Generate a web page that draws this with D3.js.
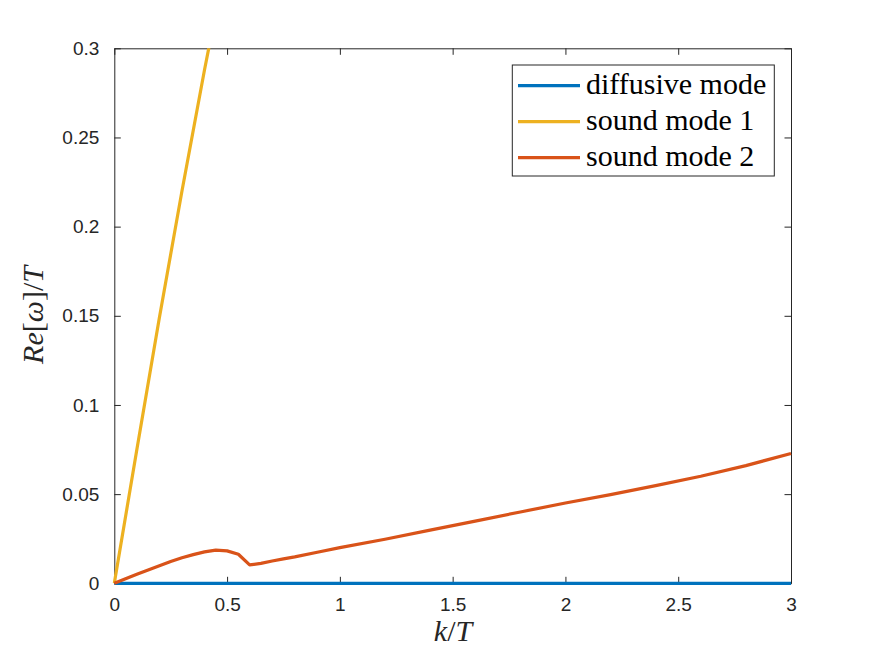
<!DOCTYPE html>
<html><head><meta charset="utf-8">
<script src="https://cdn.jsdelivr.net/npm/d3@7"></script>
<style>body{margin:0;background:#fff}svg{display:block}</style>
</head><body>
<svg id="c" width="875" height="656"></svg>
<script>
const xTicks = [0, 0.5, 1, 1.5, 2, 2.5, 3];
const xTickLabels = ["0", "0.5", "1", "1.5", "2", "2.5", "3"];
const yTicks = [0, 0.05, 0.1, 0.15, 0.2, 0.25, 0.3];
const yTickLabels = ["0", "0.05", "0.1", "0.15", "0.2", "0.25", "0.3"];

const kDiff = [0, 0.5, 1, 1.5, 2, 2.5, 3];
const vDiff = [0, 0, 0, 0, 0, 0, 0];

const kSound1 = [0, 0.1, 0.2, 0.3, 0.4, 0.45];
const vSound1 = [0, 0.075, 0.149, 0.22, 0.288, 0.32];

const kSound2 = [0, 0.05, 0.1, 0.15, 0.2, 0.25, 0.3, 0.35, 0.4, 0.45, 0.5, 0.55, 0.6, 0.65, 0.7, 0.75, 0.8, 0.9, 1.0, 1.2, 1.4, 1.6, 1.8, 2.0, 2.2, 2.4, 2.6, 2.8, 3.0];
const vSound2 = [0, 0.0026, 0.0051, 0.0075, 0.0098, 0.0122, 0.0143, 0.0161, 0.0176, 0.0186, 0.0182, 0.0163, 0.0103, 0.0112, 0.0125, 0.0137, 0.0148, 0.0174, 0.0200, 0.0247, 0.0298, 0.0349, 0.0400, 0.0450, 0.0497, 0.0548, 0.0600, 0.0660, 0.0728];

const seriesNames = ["diffusive mode", "sound mode 1", "sound mode 2"];
const seriesColors = ["#0072BD", "#EDB120", "#D95319"];

const L = 114.3, R = 791, T = 48.3, B = 583.3;
const svg = d3.select("#c");
const x = d3.scaleLinear().domain([0, 3]).range([L, R]);
const y = d3.scaleLinear().domain([0, 0.3]).range([B, T]);
const axCol = "#262626";
const tickLen = 6.5;

svg.append("defs").append("clipPath").attr("id", "clip")
  .append("rect").attr("x", L - 2).attr("y", T).attr("width", R - L + 4).attr("height", B - T + 2.5);

// axes with inward ticks on all sides
const fontTick = "Liberation Sans, Arial, sans-serif";
const gB = svg.append("g").attr("transform", `translate(0,${B})`)
  .call(d3.axisBottom(x).tickValues(xTicks).tickFormat((d, i) => xTickLabels[i]).tickSizeInner(-tickLen).tickSizeOuter(0).tickPadding(14));
const gT = svg.append("g").attr("transform", `translate(0,${T})`)
  .call(d3.axisTop(x).tickValues(xTicks).tickFormat("").tickSizeInner(-tickLen).tickSizeOuter(0));
const gL = svg.append("g").attr("transform", `translate(${L},0)`)
  .call(d3.axisLeft(y).tickValues(yTicks).tickFormat((d, i) => yTickLabels[i]).tickSizeInner(-tickLen).tickSizeOuter(0).tickPadding(15));
const gR = svg.append("g").attr("transform", `translate(${R},0)`)
  .call(d3.axisRight(y).tickValues(yTicks).tickFormat("").tickSizeInner(-tickLen).tickSizeOuter(0));
[gB, gT, gL, gR].forEach(g => {
  g.selectAll("path.domain").attr("stroke", axCol).attr("stroke-width", 1);
  g.selectAll(".tick line").attr("stroke", axCol).attr("stroke-width", 1);
  g.selectAll(".tick text").attr("fill", axCol).style("font-family", fontTick).style("font-size", "19px");
});

// data lines
const plot = svg.append("g").attr("clip-path", "url(#clip)");
const line = d3.line().x(d => x(d[0])).y(d => y(d[1]));
const data = [
  d3.zip(kDiff, vDiff),
  d3.zip(kSound1, vSound1),
  d3.zip(kSound2, vSound2)
];
data.forEach((d, i) => {
  plot.append("path").datum(d).attr("d", line)
    .attr("fill", "none").attr("stroke", seriesColors[i]).attr("stroke-width", 3.2)
    .attr("stroke-linejoin", "round").attr("stroke-linecap", "butt");
});

// axis labels
const serif = "Liberation Serif, Times New Roman, serif";
const xl = svg.append("text").attr("x", 453).attr("y", 641).attr("text-anchor", "middle")
  .style("font-family", serif).style("font-size", "30px").attr("fill", axCol);
xl.append("tspan").style("font-style", "italic").text("k");
xl.append("tspan").text("/");
xl.append("tspan").style("font-style", "italic").text("T");

const yl = svg.append("text").attr("transform", "translate(43,315) rotate(-90)").attr("text-anchor", "middle")
  .style("font-family", serif).style("font-size", "30px").attr("fill", axCol);
yl.append("tspan").style("font-style", "italic").text("Re");
yl.append("tspan").text("[");
yl.append("tspan").style("font-style", "italic").text("ω");
yl.append("tspan").text("]/");
yl.append("tspan").style("font-style", "italic").text("T");

// legend
const lg = svg.append("g");
lg.append("rect").attr("x", 512.3).attr("y", 65).attr("width", 262).attr("height", 111)
  .attr("fill", "#fff").attr("stroke", axCol).attr("stroke-width", 1);
const rowY = [85.7, 121.7, 157.7];
seriesNames.forEach((n, i) => {
  lg.append("line").attr("x1", 518).attr("x2", 580).attr("y1", rowY[i]).attr("y2", rowY[i])
    .attr("stroke", seriesColors[i]).attr("stroke-width", 3.2);
  lg.append("text").attr("x", 586).attr("y", rowY[i] + 8).text(n)
    .style("font-family", serif).style("font-size", "30px").attr("fill", "#000");
});
</script>
</body></html>
